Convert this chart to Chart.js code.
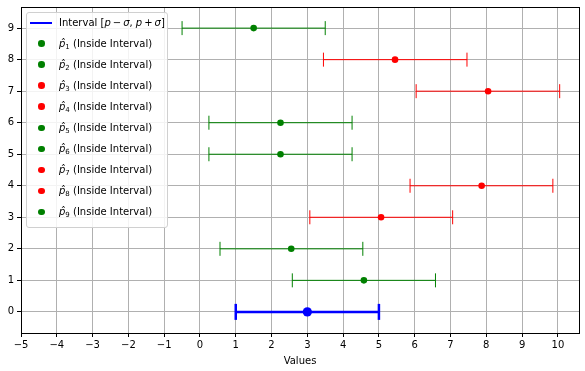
<!DOCTYPE html>
<html lang="en">
<head>
    <meta charset="UTF-8">
    <title>Intervals</title>
    <script src="https://cdn.jsdelivr.net/npm/chart.js@4/dist/chart.umd.min.js"></script>
    <style>
        body {
            margin: 0;
            background-color: #fff;
        }
        .wrap {
            position: relative;
            width: 585px;
            height: 371px;
        }
        .legend {
            position: absolute;
            left: 26px;
            top: 12px;
            width: 140px;
            height: 214px;
            border: 1px solid #d0d0d0;
            border-radius: 3px;
            background: rgba(255, 255, 255, 0.85);
            font-family: "DejaVu Sans", sans-serif;
            font-size: 10px;
            color: #000;
        }
        .legend .row {
            position: absolute;
            left: 0;
            height: 14px;
            line-height: 14px;
            white-space: nowrap;
        }
        .legend .mark {
            position: absolute;
            top: 50%;
        }
        .legend .txt {
            position: absolute;
            left: 32px;
            top: 0;
        }
        .legend sub {
            font-size: 7px;
            vertical-align: -2px;
        }
    </style>
</head>
<body>
    <div class="wrap">
        <canvas id="chart" width="585" height="371"></canvas>
        <div class="legend" id="legend"></div>
    </div>

    <script>
        // reference interval
        const trueValue = 3;
        const trueLow = 1;
        const trueHigh = 5;

        // estimates p̂_1 .. p̂_9 (one per row)
        const rows = [1, 2, 3, 4, 5, 6, 7, 8, 9];
        const estimates = [4.58, 2.55, 5.06, 7.87, 2.25, 2.25, 8.05, 5.45, 1.5];
        const lowerBounds = [2.58, 0.56, 3.07, 5.87, 0.25, 0.25, 6.04, 3.45, -0.5];
        const upperBounds = [6.58, 4.55, 7.06, 9.86, 4.25, 4.25, 10.05, 7.46, 3.5];
        const pointColors = ['green', 'green', 'red', 'red', 'green', 'green', 'red', 'red', 'green'];

        const xTicks = [-5, -4, -3, -2, -1, 0, 1, 2, 3, 4, 5, 6, 7, 8, 9, 10];
        const yTicks = [0, 1, 2, 3, 4, 5, 6, 7, 8, 9];

        const font = { family: 'DejaVu Sans', size: 10 };

        const datasets = [];

        // error bars for each estimate
        rows.forEach((r, i) => {
            datasets.push({
                type: 'line',
                data: [{ x: lowerBounds[i], y: r }, { x: upperBounds[i], y: r }],
                borderColor: pointColors[i],
                borderWidth: 1,
                pointStyle: 'line',
                rotation: 90,
                pointRadius: 7,
                pointBorderColor: pointColors[i],
                pointBorderWidth: 1,
                order: 3
            });
        });

        // the blue reference interval
        datasets.push({
            type: 'line',
            data: [{ x: trueLow, y: 0 }, { x: trueHigh, y: 0 }],
            borderColor: 'blue',
            borderWidth: 2.5,
            pointStyle: 'line',
            rotation: 90,
            pointRadius: 8,
            pointBorderColor: 'blue',
            pointBorderWidth: 2.5,
            order: 2
        });

        // points
        datasets.push({
            type: 'scatter',
            data: estimates.map((v, i) => ({ x: v, y: rows[i] })),
            pointRadius: 3.3,
            pointBackgroundColor: pointColors,
            pointBorderWidth: 0,
            order: 1
        });
        datasets.push({
            type: 'scatter',
            data: [{ x: trueValue, y: 0 }],
            pointRadius: 4.6,
            pointBackgroundColor: 'blue',
            pointBorderWidth: 0,
            order: 0
        });

        // draws the four spines
        const frame = {
            id: 'frame',
            afterDraw(chart) {
                const a = chart.chartArea;
                const ctx = chart.ctx;
                ctx.save();
                ctx.strokeStyle = '#000';
                ctx.lineWidth = 1;
                ctx.strokeRect(Math.round(a.left) + 0.5, Math.round(a.top) + 0.5,
                    Math.round(a.right - a.left), Math.round(a.bottom - a.top));
                ctx.restore();
            }
        };

        const minus = v => String(v).replace('-', '\u2212');
        const noPad = s => { s.paddingTop = 0; s.paddingBottom = 0; s.paddingLeft = 0; s.paddingRight = 0; };

        const chart = new Chart(document.getElementById('chart'), {
            type: 'scatter',
            data: { datasets: datasets },
            plugins: [frame],
            options: {
                responsive: false,
                devicePixelRatio: 1,
                animation: false,
                layout: { autoPadding: false, padding: { top: 7, right: 6, left: 0, bottom: 4 } },
                plugins: {
                    legend: { display: false },
                    tooltip: { enabled: false }
                },
                scales: {
                    x: {
                        type: 'linear',
                        min: -5,
                        max: 10.59,
                        afterBuildTicks: s => { s.ticks = xTicks.map(v => ({ value: v })); },
                        afterFit: s => { s.height = 34; noPad(s); },
                        ticks: { font: font, color: '#000', padding: 2, maxRotation: 0, callback: minus },
                        grid: { color: '#b0b0b0', lineWidth: 1, tickColor: '#000', tickLength: 4 },
                        border: { display: false },
                        title: { display: true, text: 'Values', font: font, color: '#000', padding: { top: 1, bottom: 0 } }
                    },
                    y: {
                        type: 'linear',
                        min: -0.67,
                        max: 9.67,
                        afterBuildTicks: s => { s.ticks = yTicks.map(v => ({ value: v })); },
                        afterFit: s => { s.width = 21; noPad(s); },
                        ticks: { font: font, color: '#000', padding: 3, callback: minus },
                        grid: { color: '#b0b0b0', lineWidth: 1, tickColor: '#000', tickLength: 4 },
                        border: { display: false }
                    }
                }
            }
        });

        // legend built from the same arrays
        const legend = document.getElementById('legend');
        const firstRow = 9.5;
        const rowStep = 21.05;
        const ts = '\u2009';
        let html = '<div class="row" style="top:' + (firstRow - 7) + 'px">' +
            '<span class="mark" style="left:3px;width:22px;height:2px;margin-top:-1px;background:blue"></span>' +
            '<span class="txt">Interval [<i>p</i>' + ts + '\u2212' + ts + '<i>\u03c3</i>, <i>p</i>' + ts + '+' + ts + '<i>\u03c3</i>]</span></div>';
        rows.forEach((r, i) => {
            const top = firstRow + rowStep * (i + 1) - 7;
            html += '<div class="row" style="top:' + top.toFixed(1) + 'px">' +
                '<span class="mark" style="left:11px;width:6.6px;height:6.6px;margin-top:-3.3px;border-radius:50%;background:' + pointColors[i] + '"></span>' +
                '<span class="txt"><i>p\u0302</i><sub>' + r + '</sub> (Inside Interval)</span></div>';
        });
        legend.innerHTML = html;
    </script>
</body>
</html>
